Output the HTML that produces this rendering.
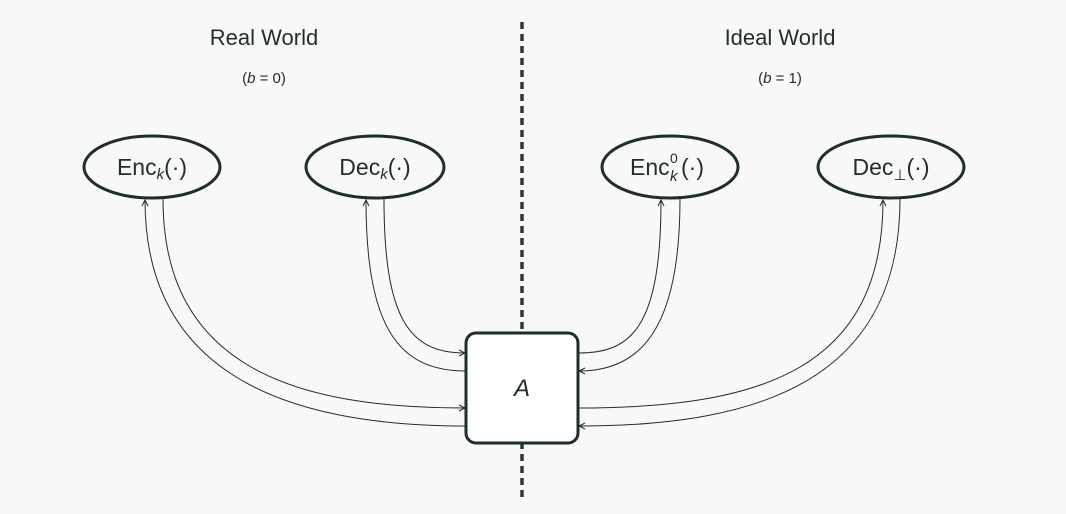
<!DOCTYPE html>
<html><head><style>
body{margin:0;background:#f8f8f8;}
svg{display:block}
text{font-family:"Liberation Sans","DejaVu Sans",sans-serif;fill:#1f2d2d}
</style></head><body>
<svg width="1066" height="514" viewBox="0 0 1066 514">
<defs>
<marker id="a" markerWidth="8" markerHeight="8" refX="7" refY="4" orient="auto" markerUnits="userSpaceOnUse">
<path d="M1,1 L7,4 L1,7" fill="none" stroke="#1f2d2d" stroke-width="1"/>
</marker>
</defs>
<rect width="1066" height="514" fill="#f8f8f8"/>
<line x1="522" y1="22" x2="522" y2="500" stroke="#2a3838" stroke-width="3.5" stroke-dasharray="7,5"/>
<text x="264" y="45" font-size="22" text-anchor="middle">Real World</text>
<text x="264" y="83" font-size="15" text-anchor="middle">(<tspan font-style="italic">b</tspan> = 0)</text>
<text x="780" y="45" font-size="22" text-anchor="middle">Ideal World</text>
<text x="780" y="83" font-size="15" text-anchor="middle">(<tspan font-style="italic">b</tspan> = 1)</text>
<g fill="none" stroke="#1f2d2d" stroke-width="1">
<path d="M163 199 C163 370 300 408 465 408" marker-end="url(#a)"/>
<path d="M466 426 C280 426 145 370 145 200" marker-end="url(#a)"/>
<path d="M384 199 C384 320 410 353 465 353" marker-end="url(#a)"/>
<path d="M466 371 C400 371 366 330 366 200" marker-end="url(#a)"/>
<path d="M578 353 C630 353 661 330 661 200" marker-end="url(#a)"/>
<path d="M680 199 C680 330 640 371 579 371" marker-end="url(#a)"/>
<path d="M578 408 C760 408 883 370 883 200" marker-end="url(#a)"/>
<path d="M900 199 C900 380 760 426 579 426" marker-end="url(#a)"/>
</g>
<g fill="#f8f8f8" stroke="#1f2d2d" stroke-width="3">
<ellipse cx="152" cy="167" rx="68" ry="31"/>
<ellipse cx="375" cy="167" rx="69" ry="31"/>
<ellipse cx="670" cy="167" rx="68" ry="31"/>
<ellipse cx="891" cy="167" rx="73" ry="31"/>
<rect x="466" y="333" width="112" height="110" rx="10" fill="#fff"/>
</g>
<text x="152" y="175" font-size="23" text-anchor="middle">Enc<tspan font-size="15" font-style="italic" dy="4">k</tspan><tspan dy="-4">(·)</tspan></text>
<text x="375" y="175" font-size="23" text-anchor="middle">Dec<tspan font-size="15" font-style="italic" dy="4">k</tspan><tspan dy="-4">(·)</tspan></text>
<text x="630" y="175" font-size="23">Enc</text>
<text x="670" y="163" font-size="14">0</text>
<text x="670" y="181" font-size="15" font-style="italic">k</text>
<text x="681" y="175" font-size="23">(·)</text>
<text x="891" y="175" font-size="23" text-anchor="middle">Dec<tspan font-size="15" dy="5">⊥</tspan><tspan dy="-5">(·)</tspan></text>
<text x="522" y="396" font-size="24" font-style="italic" font-family="DejaVu Serif,serif" text-anchor="middle">A</text>
</svg>
</body></html>
